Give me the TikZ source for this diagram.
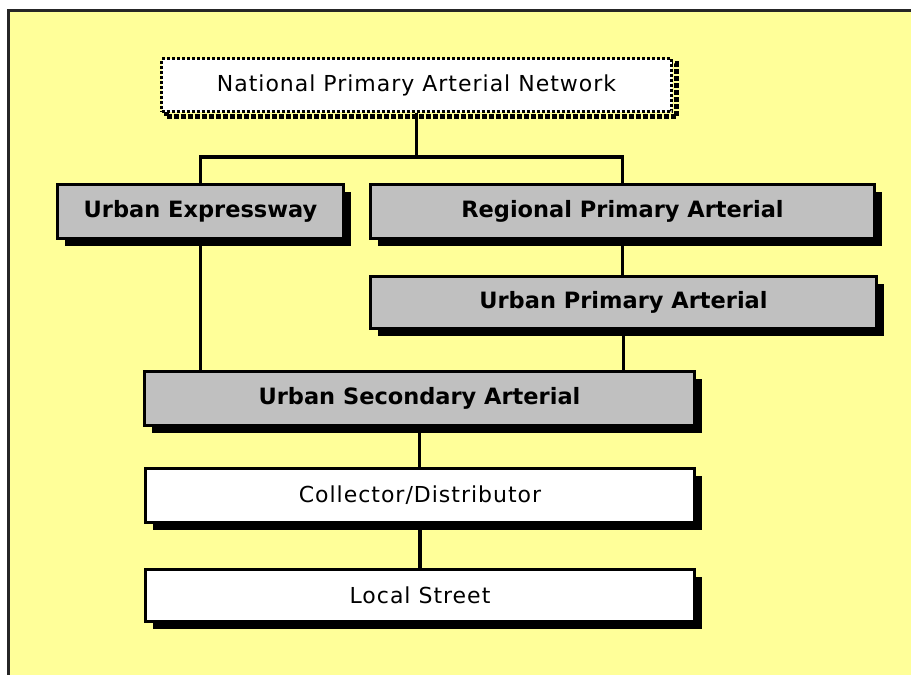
\documentclass[tikz,border=0pt]{standalone}
\usepackage{fontspec}
\setmainfont{DejaVu Sans}
\newfontfamily\plainfont[LetterSpace=4.5]{DejaVu Sans}
\usetikzlibrary{shadows}
\definecolor{padyellow}{RGB}{255,255,153}
\definecolor{boxgray}{RGB}{192,192,192}
\begin{document}
\begin{tikzpicture}[x=1pt,y=-1pt]
	\tikzstyle{mainroad}=[draw=black,line width=3.5pt,fill=boxgray,font=\fontsize{22.5}{26}\selectfont\bfseries,
		drop shadow={shadow xshift=7.5pt,shadow yshift=-7.5pt,fill=black,opacity=1}]
	\tikzstyle{minorroad}=[draw=black,line width=3.5pt,fill=white,font=\fontsize{22}{26}\selectfont\plainfont,
		drop shadow={shadow xshift=7.5pt,shadow yshift=-7.5pt,fill=black,opacity=1}]
	\tikzstyle{network}=[draw=black,line width=3pt,dotted,fill=white,font=\fontsize{22}{26}\selectfont\plainfont,
		drop shadow={shadow xshift=5pt,shadow yshift=-5pt,fill=none,draw=black,line width=5pt,dotted,opacity=1}]
	\tikzstyle{edge}=[draw=black,line width=3.5pt]

	\useasboundingbox (0,0) rectangle (911,675);
	\fill[padyellow] (8,10) rectangle (911,675);
	\draw[line width=3pt,black!85] (8,675) -- (8,10) -- (911,10);

	\begin{scope}
		\node [network, minimum width=510pt, minimum height=53pt] (nat) at (416.5,85) {National Primary Arterial Network};

		\node [mainroad, minimum width=286pt, minimum height=54pt] (exp) at (200.5,211.5) {Urban Expressway};
		\node [mainroad, minimum width=504pt, minimum height=54pt] (reg) at (622.5,211.5) {Regional Primary Arterial};
		\node [mainroad, minimum width=506pt, minimum height=52pt] (upa) at (623.5,302.5) {Urban Primary Arterial};
		\node [mainroad, minimum width=550pt, minimum height=54pt] (usa) at (419.5,398.5) {Urban Secondary Arterial};

		\node [minorroad, minimum width=549pt, minimum height=54pt] (col) at (420,495.5) {Collector/Distributor};
		\node [minorroad, minimum width=549pt, minimum height=52pt] (loc) at (420,595.5) {Local Street};

		\coordinate (junc) at (417,157);

		\path[edge] (nat.south) edge (nat.south |- junc);
		\draw[edge] (exp.north) |- (junc) -| (reg.north);
		\path[edge] (reg.south) edge (reg.south |- upa.north);
		\path[edge] (exp.south) edge (exp.south |- usa.north);
		\path[edge] (upa.south) edge (upa.south |- usa.north);
		\path[edge] (usa.south) edge (usa.south |- col.north);
		\path[edge] (col.south) edge (col.south |- loc.north);
	\end{scope}
\end{tikzpicture}
\end{document}
